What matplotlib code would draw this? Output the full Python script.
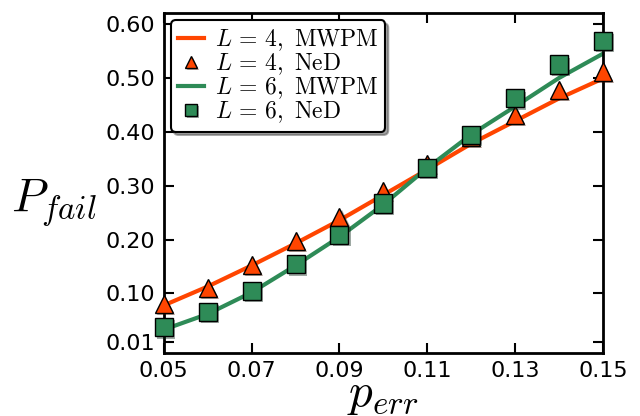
import matplotlib
matplotlib.use("Agg")
import matplotlib.pyplot as plt
import matplotlib.patheffects as pe

plt.rcParams['mathtext.fontset'] = 'cm'

p_err = [0.05, 0.06, 0.07, 0.08, 0.09, 0.10, 0.11, 0.12, 0.13, 0.14, 0.15]
mwpm_L4 = [0.078, 0.113, 0.152, 0.193, 0.236, 0.283, 0.330, 0.378, 0.420, 0.462, 0.499]
ned_L4 = [0.080, 0.110, 0.153, 0.198, 0.242, 0.290, 0.340, 0.390, 0.432, 0.478, 0.512]
mwpm_L6 = [0.033, 0.062, 0.102, 0.152, 0.205, 0.265, 0.333, 0.395, 0.447, 0.500, 0.545]
ned_L6 = [0.037, 0.066, 0.104, 0.154, 0.209, 0.267, 0.333, 0.395, 0.462, 0.525, 0.569]

xticks = [0.05, 0.07, 0.09, 0.11, 0.13, 0.15]
xticklabels = ['0.05', '0.07', '0.09', '0.11', '0.13', '0.15']
yticks = [0.01, 0.10, 0.20, 0.30, 0.40, 0.50, 0.60]
yticklabels = ['0.01', '0.10', '0.20', '0.30', '0.40', '0.50', '0.60']

orange = '#FF4500'
green = '#2E8B57'

fig = plt.figure(figsize=(6.4, 4.16), dpi=100)
ax = fig.add_axes([0.256, 0.152, 0.686, 0.816])

shadow = [pe.SimplePatchShadow(offset=(1.5, -1.5), alpha=0.4), pe.Normal()]

ax.plot(p_err, mwpm_L4, '-', color=orange, lw=3, label=r'$L\,=\,4,\ \mathrm{MWPM}$', zorder=2)
ax.plot(p_err, ned_L4, '^', color=orange, ms=13, mec='black', mew=1,
        label=r'$L\,=\,4,\ \mathrm{NeD}$', zorder=3, path_effects=shadow, clip_on=False)
ax.plot(p_err, mwpm_L6, '-', color=green, lw=3, label=r'$L\,=\,6,\ \mathrm{MWPM}$', zorder=2)
ax.plot(p_err, ned_L6, 's', color=green, ms=13, mec='black', mew=1,
        label=r'$L\,=\,6,\ \mathrm{NeD}$', zorder=4, path_effects=shadow, clip_on=False)

ax.set_xlim(0.05, 0.15)
ax.set_ylim(-0.01, 0.62)
ax.set_xticks(xticks)
ax.set_xticklabels(xticklabels)
ax.set_yticks(yticks)
ax.set_yticklabels(yticklabels)
ax.tick_params(direction='in', length=7, width=1.5, labelsize=16, top=True, right=True)
ax.tick_params(axis='x', pad=6)
ax.tick_params(axis='y', pad=6)
for s in ax.spines.values():
    s.set_linewidth(2)

ax.set_xlabel(r'$p_{err}$', fontsize=34, va='baseline')
ax.xaxis.set_label_coords(0.5, -0.157)
ax.set_ylabel(r'$P_{fail}$', fontsize=34, rotation=0, va='center', ha='center')
ax.yaxis.set_label_coords(-0.25, 0.44)

leg = ax.legend(loc='upper left', numpoints=1, fontsize=17, fancybox=True, shadow=True,
                framealpha=1, edgecolor='black', borderpad=0.3, labelspacing=-0.08,
                handlelength=1.1, handletextpad=0.45, borderaxespad=0.3, markerscale=0.65)
leg.get_frame().set_linewidth(1.5)
leg.set_zorder(10)

fig.savefig('out.png', dpi=100)
